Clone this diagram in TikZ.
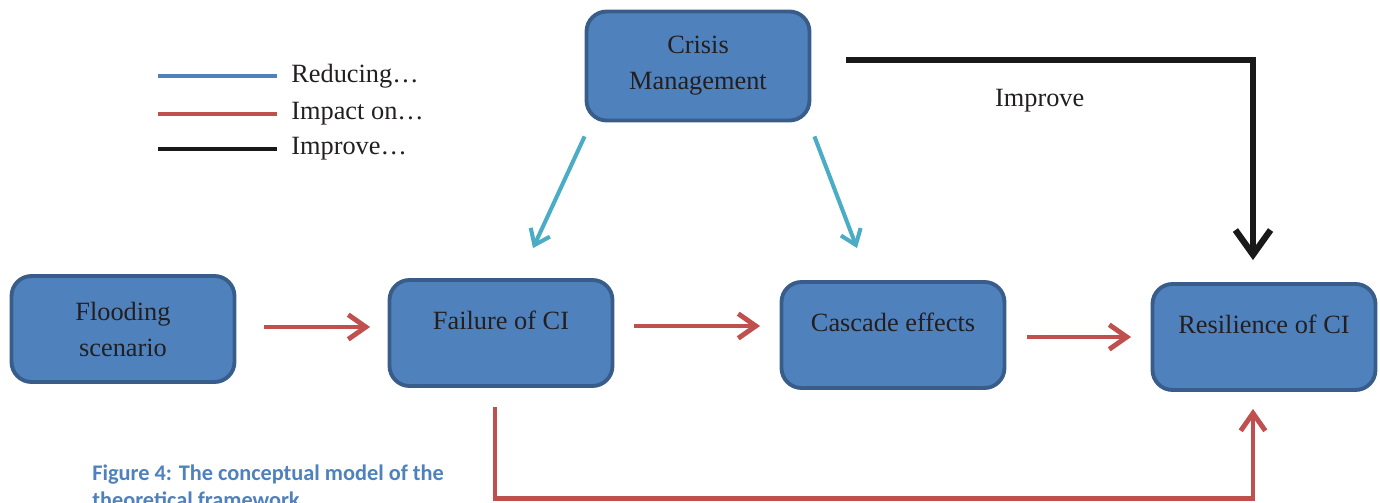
\documentclass[tikz,border=0pt]{standalone}
\usepackage{fontspec}
\setmainfont{Liberation Serif}
\newfontfamily\capfont{Carlito}
\usepackage{xcolor}
\usetikzlibrary{calc,positioning,arrows.meta}
\definecolor{boxfill}{HTML}{4F81BD}
\definecolor{boxline}{HTML}{385D8A}
\definecolor{redarr}{HTML}{C0504D}
\definecolor{bluearr}{HTML}{4BACC6}
\definecolor{txt}{HTML}{231F20}

\begin{document}
\begin{tikzpicture}[x=0.02cm,y=-0.02cm,every node/.style={text=txt,font=\fontsize{15}{20.5}\selectfont}]
\tikzset{box/.style={draw=boxline,fill=boxfill,line width=2.2pt,rounded corners=0.4cm,minimum width=4.46cm,minimum height=2.12cm,align=center}}
\tikzset{toplab/.style={yshift=0.25cm}}
\tikzset{rarrow/.style={-{Straight Barb[length=10pt,width=14pt]},line width=2.8pt,redarr}}
\tikzset{barrow/.style={-{Straight Barb[length=8pt,width=12pt]},line width=2.3pt,bluearr}}
\tikzset{karrow/.style={-{Straight Barb[length=14pt,width=20pt]},line width=3.6pt,black!90}}

\path[use as bounding box,clip] (0,0) rectangle (1380,503);

  \node(S0) [box] at (123,329) {Flooding\\scenario};
  \node(S1) [box,label={[toplab]center:Failure of CI}] at (501,333) {};
  \node(S2) [box,label={[toplab]center:Cascade effects}] at (893,335) {};
  \node(S3) [box,label={[toplab]center:Resilience of CI}] at (1264,337) {};
  \node(CM) [box,minimum height=2.18cm] at (698,66) {Crisis\\Management};

% legend
\foreach \y/\c/\t in {76/boxfill/Reducing…,114/redarr/Impact on…,149/black!90/Improve…}
  \draw[line width=2.8pt,\c] (158,\y) -- (277,\y) node(L\y) [right=0.12cm] {\t};

% impact on
\draw[rarrow,shorten <=0.55cm,shorten >=0.35cm] ($(S0.east)+(0,-2)$) -- ($(S1.west)+(0,-6)$);
\draw[rarrow,shorten <=0.39cm,shorten >=0.39cm] ($(S1.east)+(0,-7)$) -- ($(S2.west)+(0,-9)$);
\draw[rarrow,shorten <=0.41cm,shorten >=0.39cm] ($(S2.east)+(0,2)$) -- ($(S3.west)+(0,0)$);
\draw[rarrow] ($(S1.south)+(-6,19)$) -- ++(0,92) -| ($(S3.south)+(-11,17)$);

% reducing
\draw[barrow] ($(CM.south west)+(0,14)$) -- ($(S1.north)+(32,-30)$);
\draw[barrow] ($(CM.south east)+(3,14)$) -- ($(S2.north)+(-36,-32)$);

% improve
\draw[karrow] ($(CM.east)+(35,-6)$) -| ($(S3.north)+(-11,-22)$) node(IM) [pos=0.25,below=0.4cm,xshift=-0.2cm] {Improve};

  \node(CAP) [anchor=north west,align=left,inner sep=0pt,text=boxfill,font=\capfont\bfseries\fontsize{12.7}{15.4}\selectfont] at (92,464) {Figure 4: The conceptual model of the\\theoretical framework};
\end{tikzpicture}
\end{document}
